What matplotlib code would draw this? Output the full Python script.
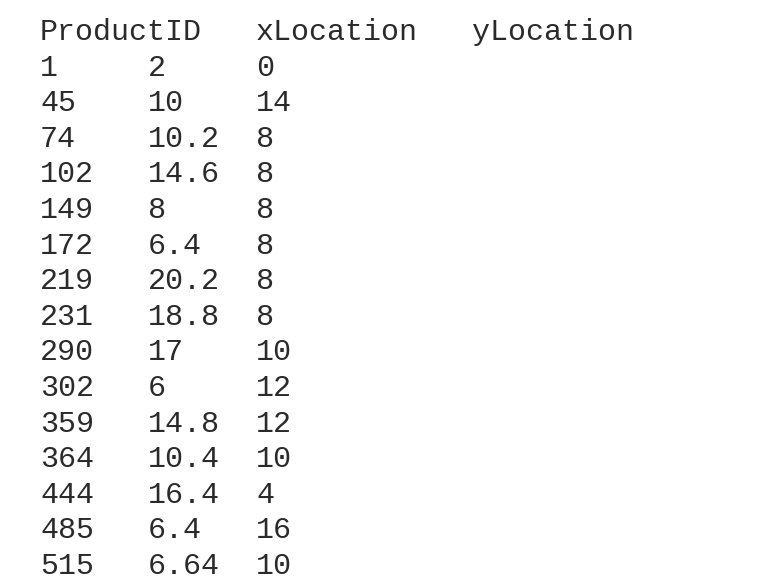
import matplotlib
matplotlib.use("Agg")
import matplotlib.pyplot as plt

headers = ["ProductID", "xLocation", "yLocation"]
product_id = ["1", "45", "74", "102", "149", "172", "219", "231", "290",
              "302", "359", "364", "444", "485", "515"]
x_location = ["2", "10", "10.2", "14.6", "8", "6.4", "20.2", "18.8", "17",
              "6", "14.8", "10.4", "16.4", "6.4", "6.64"]
y_location = ["0", "14", "8", "8", "8", "8", "8", "8", "10",
              "12", "12", "10", "4", "16", "10"]

fig = plt.figure(figsize=(7.74, 5.82), dpi=100)
ax = fig.add_axes([0, 0, 1, 1])
ax.set_xlim(0, 774)
ax.set_ylim(582, 0)
ax.axis("off")

# thin monospaced text, like a plain-text table dump
kw = dict(family="Liberation Mono", fontsize=21.6, color="#2a2a2a",
          va="center", ha="left")
x0, cw = 40, 18
y0, rh = 32, 35.6

# header line: columns at char offsets 0, 12, 24
for h, c in zip(headers, [0, 12, 24]):
    ax.text(x0 + c * cw, y0, h, **kw)

# data rows: columns at char offsets 0, 6, 12
for i, row in enumerate(zip(product_id, x_location, y_location)):
    for val, c in zip(row, [0, 6, 12]):
        ax.text(x0 + c * cw, y0 + (i + 1) * rh, val, **kw)

fig.savefig("out.png", dpi=100)
